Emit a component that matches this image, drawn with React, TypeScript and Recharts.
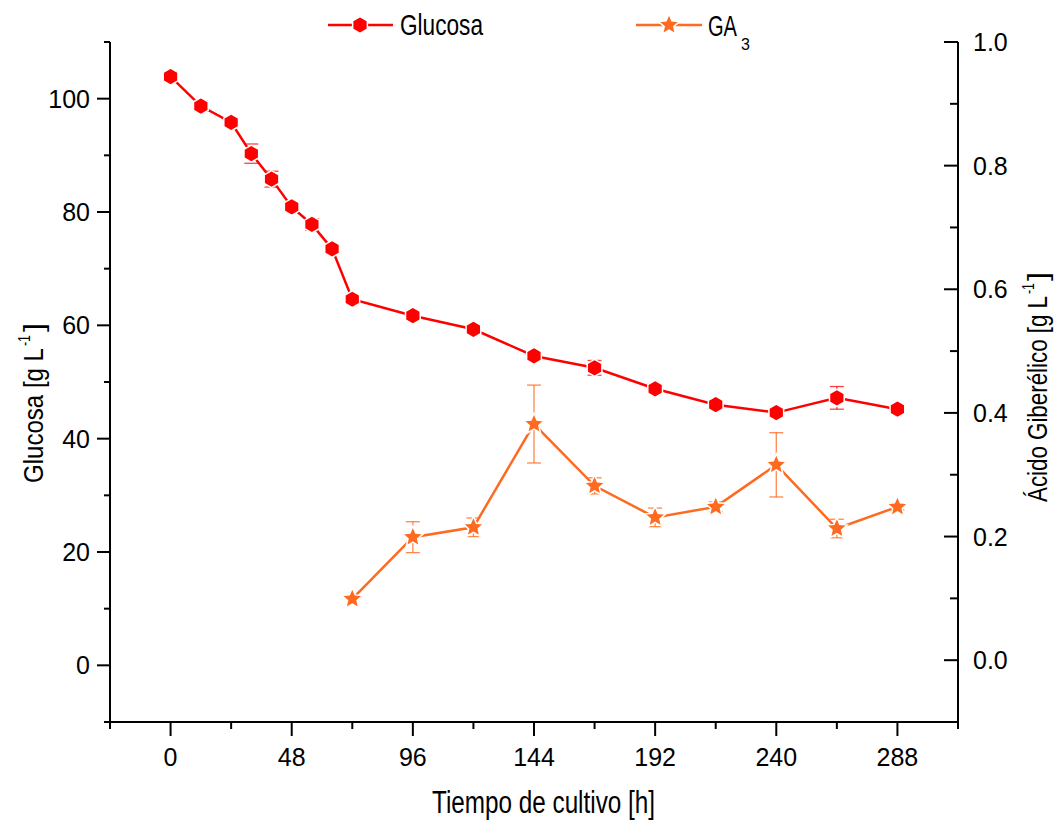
import { ComposedChart, Line, XAxis, YAxis, ErrorBar } from "recharts";

// Tiempo de cultivo [h]
const glucoseHours = [0, 12, 24, 32, 40, 48, 56, 64, 72, 96, 120, 144, 168, 192, 216, 240, 264, 288];
const glucoseValues = [103.9, 98.7, 95.8, 90.3, 85.8, 80.9, 77.8, 73.5, 64.6, 61.7, 59.3, 54.6, 52.5, 48.8, 46.0, 44.6, 47.2, 45.2];
const glucoseErrors = [0.8, 0.9, 0.8, 1.7, 1.4, 0.6, 1.0, 0.5, 0.5, 0.5, 0.5, 0.6, 1.3, 0.5, 0.5, 0.6, 2.0, 0.5];

const ga3Hours = [72, 96, 120, 144, 168, 192, 216, 240, 264, 288];
const ga3Values = [0.099, 0.199, 0.215, 0.382, 0.282, 0.231, 0.248, 0.316, 0.213, 0.248];
const ga3Errors = [0, 0.025, 0.015, 0.063, 0.013, 0.015, 0.008, 0.052, 0.015, 0.005];

const xTicks = [-24, 0, 24, 48, 72, 96, 120, 144, 168, 192, 216, 240, 264, 288, 312];
const leftTicks = [-10, 0, 10, 20, 30, 40, 50, 60, 70, 80, 90, 100, 110];
const rightTicks = [-0.1, 0, 0.1, 0.2, 0.3, 0.4, 0.5, 0.6, 0.7, 0.8, 0.9, 1.0];

const RED = "#ff0000";
const ORANGE = "#ff6a21";
const FONT = "'Liberation Sans', Arial, sans-serif";

const glucoseData = glucoseHours.map((h, i) => ({ h, v: glucoseValues[i], err: glucoseErrors[i] }));
const ga3Data = ga3Hours.map((h, i) => ({ h, v: ga3Values[i], err: ga3Errors[i] }));

const hexPoints = (cx: number, cy: number, r: number) =>
    Array.from({ length: 6 }, (_, k) => {
        const a = (Math.PI / 3) * k - Math.PI / 2;
        return `${cx + r * Math.cos(a)},${cy + r * Math.sin(a)}`;
    }).join(" ");

const starPoints = (cx: number, cy: number, r: number) =>
    Array.from({ length: 10 }, (_, k) => {
        const rr = k % 2 === 0 ? r : r * 0.46;
        const a = (Math.PI / 5) * k - Math.PI / 2;
        return `${cx + rr * Math.cos(a)},${cy + rr * Math.sin(a)}`;
    }).join(" ");

const Hex = ({ cx, cy }: any) => (
    <polygon points={hexPoints(cx, cy, 8.5)} fill={RED} stroke="#fff" strokeWidth={1.5} />
);

const Star = ({ cx, cy }: any) => (
    <polygon points={starPoints(cx, cy, 11)} fill={ORANGE} stroke="#fff" strokeWidth={1.5} />
);

const LeftTick = ({ x, y, payload }: any) => {
    const v = payload.value;
    const major = v >= 0 && v % 20 === 0;
    return (
        <g>
            <line x1={x - (major ? 13 : 6)} x2={x} y1={y} y2={y} stroke="#000" strokeWidth={2} />
            {major && (
                <text x={x - 20} y={y + 9} textAnchor="end" fontSize={25} fontFamily={FONT} fill="#000">
                    {v}
                </text>
            )}
        </g>
    );
};

const RightTick = ({ x, y, payload }: any) => {
    const n = Math.round(payload.value * 10);
    const major = n >= 0 && n % 2 === 0;
    return (
        <g>
            <line x1={x - (major ? 14 : 8)} x2={x} y1={y} y2={y} stroke="#000" strokeWidth={2} />
            {major && (
                <text x={x + 15} y={y + 9} textAnchor="start" fontSize={25} fontFamily={FONT} fill="#000">
                    {(n / 10).toFixed(1)}
                </text>
            )}
        </g>
    );
};

const BottomTick = ({ x, y, payload }: any) => {
    const v = payload.value;
    const major = v >= 0 && v % 48 === 0;
    return (
        <g>
            <line x1={x} x2={x} y1={y} y2={y + (major ? 14 : 7)} stroke="#000" strokeWidth={2} />
            {major && (
                <text x={x} y={y + 44} textAnchor="middle" fontSize={25} fontFamily={FONT} fill="#000">
                    {v}
                </text>
            )}
        </g>
    );
};

// axis titles and legend, narrow text squeezed with textLength / scale
const Overlay = () => (
    <svg width={1063} height={823} style={{ position: "absolute", left: 0, top: 0, pointerEvents: "none" }}>
        <g fontFamily={FONT} fill="#000">
            {/* legend */}
            <line x1={328} x2={393} y1={25} y2={25} stroke={RED} strokeWidth={2.5} />
            <Hex cx={360} cy={25} />
            <text x={400} y={35} fontSize={30} textLength={83} lengthAdjust="spacingAndGlyphs">Glucosa</text>

            <line x1={636} x2={702} y1={25} y2={25} stroke={ORANGE} strokeWidth={2.5} />
            <Star cx={669} cy={25} />
            <g transform="translate(708, 36) scale(0.67, 1)">
                <text x={0} y={0} fontSize={30}>GA</text>
            </g>
            <text x={741} y={50} fontSize={16}>3</text>

            {/* x title */}
            <text x={432} y={813} fontSize={31} textLength={223} lengthAdjust="spacingAndGlyphs">
                Tiempo de cultivo [h]
            </text>

            {/* left title */}
            <g transform="translate(43, 483) rotate(-90)">
                <text x={0} y={0} fontSize={28} textLength={135} lengthAdjust="spacingAndGlyphs">Glucosa [g L</text>
                <text x={137} y={-13} fontSize={16} textLength={11} lengthAdjust="spacingAndGlyphs">-1</text>
                <text x={151} y={0} fontSize={28} textLength={9} lengthAdjust="spacingAndGlyphs">]</text>
            </g>

            {/* right title */}
            <g transform="translate(1047, 502) rotate(-90)">
                <text x={0} y={0} fontSize={28} textLength={206} lengthAdjust="spacingAndGlyphs">Ácido Giberélico [g L</text>
                <text x={208} y={-13} fontSize={16} textLength={11} lengthAdjust="spacingAndGlyphs">-1</text>
                <text x={221} y={0} fontSize={28} textLength={9} lengthAdjust="spacingAndGlyphs">]</text>
            </g>
        </g>
    </svg>
);

export default function App() {
    return (
        <div style={{ position: "absolute", left: 0, top: 0, width: 1063, height: 823, background: "#fff" }}>
            <ComposedChart width={1063} height={823} margin={{ top: 42, right: 0, bottom: 0, left: 0 }}>
                <XAxis
                    dataKey="h"
                    type="number"
                    domain={[-24, 312]}
                    ticks={xTicks}
                    interval={0}
                    height={101}
                    tickSize={0}
                    tickMargin={0}
                    tickLine={false}
                    axisLine={{ stroke: "#000", strokeWidth: 2 }}
                    tick={<BottomTick />}
                    allowDuplicatedCategory={false}
                />
                <YAxis
                    yAxisId="left"
                    orientation="left"
                    type="number"
                    domain={[-10, 110]}
                    ticks={leftTicks}
                    interval={0}
                    width={110}
                    tickSize={0}
                    tickMargin={0}
                    tickLine={false}
                    axisLine={{ stroke: "#000", strokeWidth: 2 }}
                    tick={<LeftTick />}
                />
                <YAxis
                    yAxisId="right"
                    orientation="right"
                    type="number"
                    domain={[-0.1, 1.0]}
                    ticks={rightTicks}
                    interval={0}
                    width={105}
                    tickSize={0}
                    tickMargin={0}
                    tickLine={false}
                    axisLine={{ stroke: "#000", strokeWidth: 2 }}
                    tick={<RightTick />}
                />

                <Line
                    yAxisId="left"
                    data={glucoseData}
                    dataKey="v"
                    type="linear"
                    stroke={RED}
                    strokeWidth={2.5}
                    dot={(p: any) => <Hex key={`g-${p.index}`} cx={p.cx} cy={p.cy} />}
                    activeDot={false}
                    isAnimationActive={false}
                >
                    <ErrorBar dataKey="err" direction="y" width={7} stroke={RED} strokeWidth={1.3} strokeOpacity={0.75} />
                </Line>

                <Line
                    yAxisId="right"
                    data={ga3Data}
                    dataKey="v"
                    type="linear"
                    stroke={ORANGE}
                    strokeWidth={2.5}
                    dot={(p: any) => <Star key={`s-${p.index}`} cx={p.cx} cy={p.cy} />}
                    activeDot={false}
                    isAnimationActive={false}
                >
                    <ErrorBar dataKey="err" direction="y" width={7} stroke={ORANGE} strokeWidth={1.3} strokeOpacity={0.8} />
                </Line>
            </ComposedChart>
            <Overlay />
        </div>
    );
}
